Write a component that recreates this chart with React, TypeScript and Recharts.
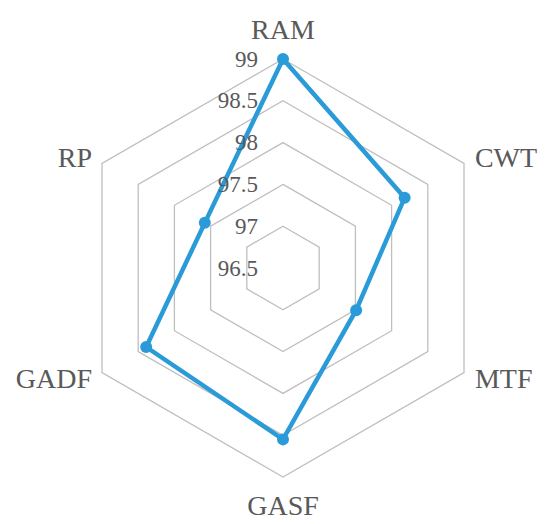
import React from "react";
import { RadarChart, Radar, PolarGrid, PolarAngleAxis, PolarRadiusAxis } from "recharts";

const categories = ["RAM", "CWT", "MTF", "GASF", "GADF", "RP"];
const values = [99, 98.18, 97.51, 98.55, 98.39, 97.58];
const radiusTicks = [96.5, 97, 97.5, 98, 98.5, 99];

const data = categories.map((c, i) => ({ name: c, value: values[i] }));

const TEXT_COLOR = "#595959";
const LINE_COLOR = "#2A9BD8";
const FONT = "'Liberation Serif', 'Times New Roman', serif";

const AngleTick = (props: any) => {
  const { x, y, payload, textAnchor, cy } = props;
  let dx = 0;
  let dy = 0;
  let baseline: any = "central";
  if (textAnchor === "middle") {
    if (y < cy) {
      dy = -12;
      baseline = "auto";
    } else {
      dy = 30;
      baseline = "auto";
    }
  } else if (textAnchor === "start") {
    dx = 4;
    dy = y < cy ? -2 : 2;
  } else {
    dx = -3;
    dy = y < cy ? -2 : 2;
  }
  return (
    <text
      x={x + dx}
      y={y + dy}
      textAnchor={textAnchor}
      dominantBaseline={baseline}
      fill={TEXT_COLOR}
      fontFamily={FONT}
      fontSize={28}
    >
      {payload.value}
    </text>
  );
};

const RadiusTick = (props: any) => {
  const { x, y, payload } = props;
  return (
    <text
      x={x - 25}
      y={y}
      textAnchor="end"
      dominantBaseline="central"
      fill={TEXT_COLOR}
      fontFamily={FONT}
      fontSize={23}
    >
      {payload.value}
    </text>
  );
};

const Dot = (props: any) => {
  const { cx, cy, index } = props;
  return <circle key={`dot-${index}`} cx={cx} cy={cy} r={6} fill={LINE_COLOR} stroke="none" />;
};

export default function App() {
  return (
    <div style={{ position: "absolute", left: 0, top: 0, width: 550, height: 524 }}>
      <RadarChart
        width={550}
        height={524}
        data={data}
        cx={283}
        cy={268}
        outerRadius={209}
        margin={{ top: 0, right: 0, bottom: 0, left: 0 }}
      >
        <PolarGrid gridType="polygon" radialLines={false} stroke="#BFBFBF" strokeWidth={1.3} />
        <PolarAngleAxis dataKey="name" tick={<AngleTick />} tickLine={false} axisLine={false} />
        <PolarRadiusAxis
          angle={90}
          type="number"
          domain={[96.5, 99]}
          ticks={radiusTicks as any}
          tickCount={6}
          axisLine={false}
          tickLine={false}
          tick={<RadiusTick />}
        />
        <Radar
          dataKey="value"
          stroke={LINE_COLOR}
          strokeWidth={4.5}
          fill="none"
          fillOpacity={0}
          dot={<Dot />}
          isAnimationActive={false}
        />
      </RadarChart>
    </div>
  );
}
